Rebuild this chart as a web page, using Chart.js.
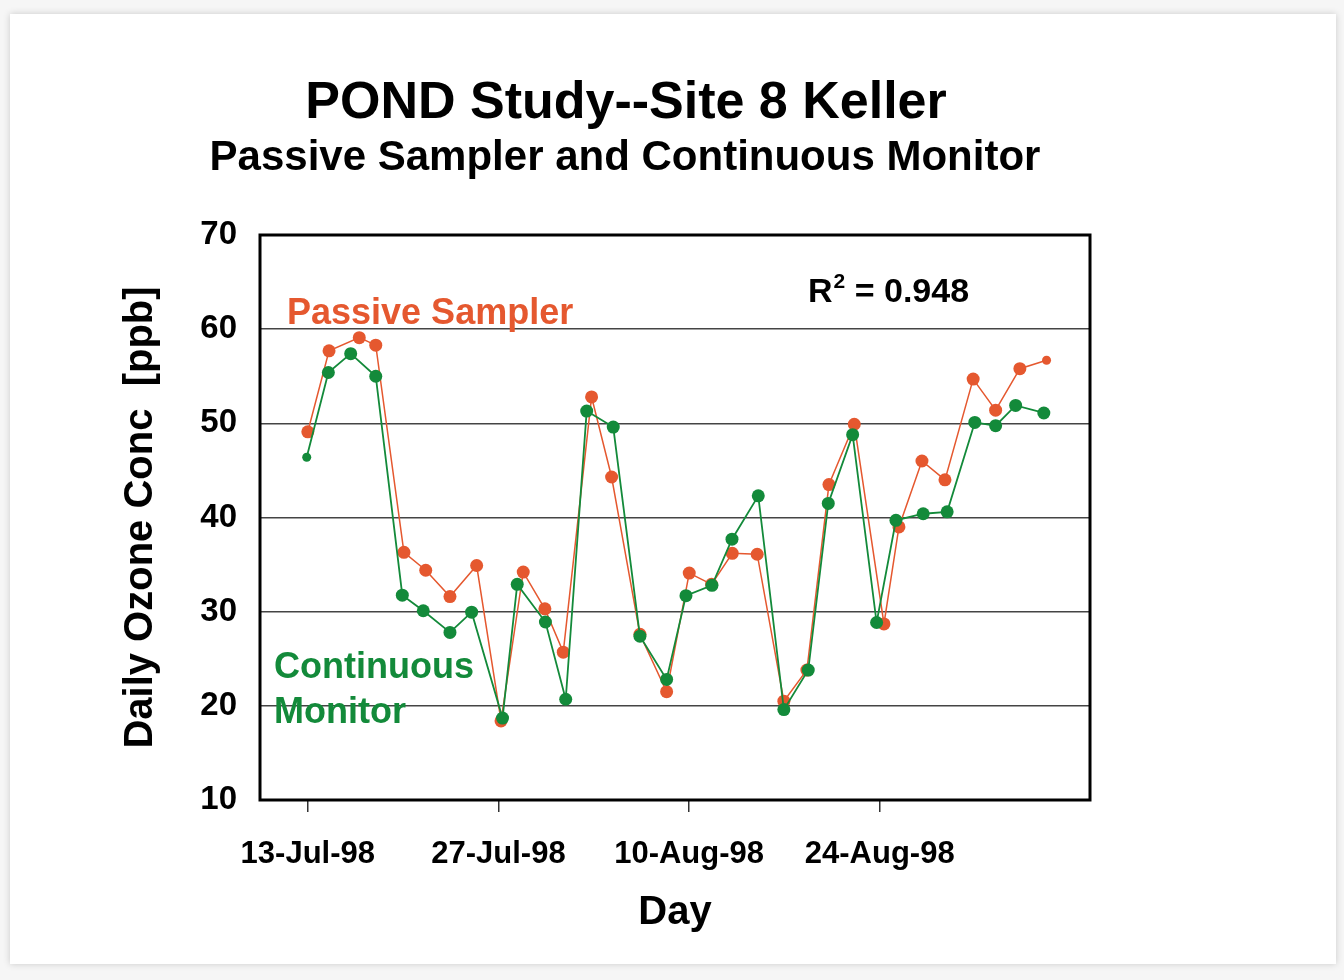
<!DOCTYPE html>
<html>
<head>
<meta charset="utf-8">
<title>POND Study--Site 8 Keller</title>
<script src="https://cdn.jsdelivr.net/npm/chart.js@4.4.0/dist/chart.umd.min.js"></script>
<style>
  html, body { margin: 0; padding: 0; background: #f6f6f6; }
  #card { position: absolute; left: 10px; top: 14px; width: 1326px; height: 950px; background: #fff; box-shadow: 0 0 7px rgba(0,0,0,0.18); }
  #chart { position: absolute; left: 0; top: 0; }
</style>
</head>
<body>
<div id="card"></div>
<canvas id="chart" width="1344" height="980"></canvas>
<script>
// days after 13-Jul-98
var passiveDays = [0.0, 1.56, 3.78, 4.99, 7.06, 8.66, 10.44, 12.40, 14.19, 15.82, 17.41, 18.76, 20.84, 22.31, 24.39, 26.35,
    28.01, 29.65, 31.17, 33.00, 34.96, 36.65, 38.27, 40.13, 42.31, 43.41, 45.10, 46.79, 48.86, 50.51, 52.29, 54.25];
var passiveValues = [49.1, 57.7, 59.1, 58.3, 36.3, 34.4, 31.6, 34.9, 18.4, 34.2, 30.3, 25.7, 52.8, 44.3, 27.6, 21.5,
    34.1, 32.9, 36.2, 36.1, 20.5, 23.8, 43.5, 49.9, 28.7, 39.0, 46.0, 44.0, 54.7, 51.4, 55.8, 56.7];

var monitorDays = [-0.08, 1.51, 3.15, 4.99, 6.94, 8.48, 10.44, 12.03, 14.30, 15.38, 17.45, 18.94, 20.48, 22.43, 24.39, 26.35,
    27.77, 29.68, 31.15, 33.08, 34.96, 36.75, 38.22, 40.01, 41.77, 43.19, 45.19, 46.95, 48.98, 50.51, 51.98, 54.05];
var monitorValues = [46.4, 55.4, 57.4, 55.0, 31.75, 30.1, 27.8, 29.95, 18.7, 32.9, 28.9, 20.7, 51.3, 49.6, 27.4, 22.8,
    31.7, 32.8, 37.7, 42.3, 19.6, 23.8, 41.5, 48.8, 28.85, 39.7, 40.4, 40.6, 50.1, 49.75, 51.9, 51.1];

var tickDays = [0, 14, 28, 42];
var tickLabels = ['13-Jul-98', '27-Jul-98', '10-Aug-98', '24-Aug-98'];

var ORANGE = '#e5582f';
var GREEN = '#138a3a';
var FONT = '"Liberation Sans", Arial, Helvetica, sans-serif';

function toPoints(days, values) {
    return days.map(function(d, i) { return {x: d, y: values[i]}; });
}

// titles, in-plot labels and the black frame round the plot
var decorations = {
    id: 'decorations',
    beforeDatasetsDraw: function(chart) {
        var c = chart.ctx, a = chart.chartArea;
        c.save();
        c.strokeStyle = '#000';
        c.lineWidth = 3;
        c.strokeRect(a.left, a.top, a.right - a.left, a.bottom - a.top);
        c.restore();
    },
    afterDraw: function(chart) {
        var c = chart.ctx, a = chart.chartArea;
        c.save();
        c.textBaseline = 'middle';
        c.textAlign = 'center';
        c.fillStyle = '#000';
        c.font = 'bold 52px ' + FONT;
        c.fillText('POND Study--Site 8 Keller', 626, 104);
        c.font = 'bold 42px ' + FONT;
        c.fillText('Passive Sampler and Continuous Monitor', 625, 158);

        c.textAlign = 'left';
        c.fillStyle = ORANGE;
        c.font = 'bold 36px ' + FONT;
        c.fillText('Passive Sampler', a.left + 27, a.top + 79);

        c.fillStyle = GREEN;
        c.fillText('Continuous', a.left + 14, a.top + 433);
        c.fillText('Monitor', a.left + 14, a.top + 478);

        c.fillStyle = '#000';
        c.font = 'bold 34px ' + FONT;
        var x = a.left + 548, y = a.top + 58;
        c.fillText('R', x, y);
        x += c.measureText('R').width + 1;
        c.font = 'bold 21px ' + FONT;
        c.fillText('2', x, y - 11);
        x += c.measureText('2').width;
        c.font = 'bold 34px ' + FONT;
        c.fillText(' = 0.948', x, y);
        c.restore();
    }
};

var chart = new Chart(document.getElementById('chart'), {
    type: 'line',
    data: {
        datasets: [{
            label: 'Continuous Monitor',
            data: toPoints(monitorDays, monitorValues),
            borderColor: GREEN,
            backgroundColor: GREEN,
            borderWidth: 1.8,
            pointRadius: function(ctx) { return ctx.dataIndex === 0 ? 4.5 : 6.5; },
            pointBorderWidth: 0,
            pointBackgroundColor: GREEN,
            tension: 0
        }, {
            label: 'Passive Sampler',
            data: toPoints(passiveDays, passiveValues),
            borderColor: ORANGE,
            backgroundColor: ORANGE,
            borderWidth: 1.5,
            pointRadius: function(ctx) { return ctx.dataIndex === passiveDays.length - 1 ? 4.5 : 6.5; },
            pointBorderWidth: 0,
            pointBackgroundColor: ORANGE,
            tension: 0
        }]
    },
    options: {
        responsive: false,
        animation: false,
        events: [],
        layout: { padding: { left: 0, right: 254, top: 235, bottom: 0 } },
        plugins: {
            legend: { display: false },
            tooltip: { enabled: false },
            title: { display: false }
        },
        scales: {
            x: {
                type: 'linear',
                min: -3.51,
                max: 57.44,
                afterBuildTicks: function(scale) {
                    scale.ticks = tickDays.map(function(d) { return {value: d}; });
                },
                afterFit: function(scale) { scale.height = 180; },
                ticks: {
                    color: '#000',
                    font: { family: FONT, size: 31, weight: 'bold' },
                    padding: 24,
                    maxRotation: 0,
                    autoSkip: false,
                    callback: function(value) {
                        var i = tickDays.indexOf(value);
                        return i >= 0 ? tickLabels[i] : '';
                    }
                },
                grid: { drawOnChartArea: false, drawTicks: true, tickLength: 12, color: '#333', lineWidth: 1.5 },
                border: { display: false },
                title: {
                    display: true,
                    text: 'Day',
                    color: '#000',
                    font: { family: FONT, size: 40, weight: 'bold' },
                    padding: { top: 0, bottom: 43 }
                }
            },
            y: {
                min: 10,
                max: 70,
                afterFit: function(scale) { scale.width = 260; },
                ticks: {
                    stepSize: 10,
                    color: '#000',
                    font: { family: FONT, size: 33, weight: 'bold' },
                    padding: 23
                },
                grid: { drawTicks: false, color: '#444', lineWidth: 1.6 },
                border: { display: false },
                title: {
                    display: true,
                    text: 'Daily Ozone Conc  [ppb]',
                    color: '#000',
                    font: { family: FONT, size: 40, weight: 'bold' },
                    padding: { top: 117, bottom: 0 }
                }
            }
        }
    },
    plugins: [decorations]
});
</script>
</body>
</html>
